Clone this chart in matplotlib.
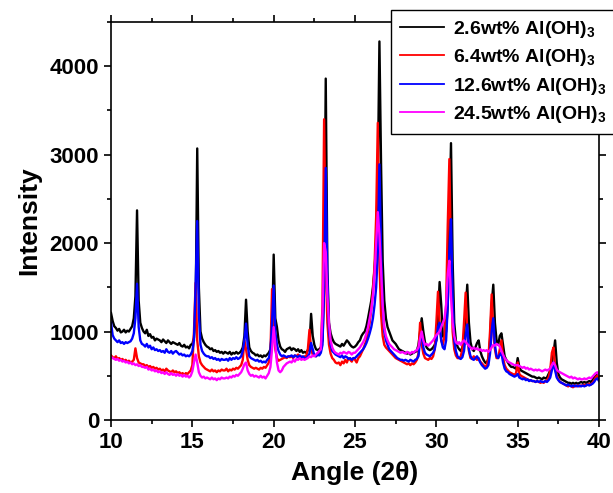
import numpy as np
import matplotlib
matplotlib.use("Agg")
import matplotlib.pyplot as plt
from matplotlib.ticker import MultipleLocator

plt.rcParams["font.family"] = ["Liberation Sans", "DejaVu Sans"]
plt.rcParams["font.weight"] = "bold"
plt.rcParams["mathtext.fontset"] = "custom"
plt.rcParams["mathtext.rm"] = "Liberation Sans:bold"
plt.rcParams["mathtext.bf"] = "Liberation Sans:bold"
plt.rcParams["mathtext.default"] = "bf"

# 2-theta scan, 10-40 deg in 0.1 deg steps
angle = np.linspace(10, 40, 301)

labels = [r"2.6wt% Al(OH)$_3$", r"6.4wt% Al(OH)$_3$",
          r"12.6wt% Al(OH)$_3$", r"24.5wt% Al(OH)$_3$"]
colors = ["#000000", "#ff0000", "#0000ff", "#ff00ff"]

al_2_6 = [
    1210, 1120, 1060, 1040, 1010, 1030, 990, 1000, 1020, 990,
    1010, 1000, 1030, 1060, 1150, 1400, 2370, 1350, 1100, 1040,
    1000, 980, 1020, 950, 970, 930, 940, 900, 920, 910,
    900, 880, 910, 890, 870, 900, 880, 860, 880, 870,
    860, 850, 870, 840, 830, 850, 820, 830, 810, 850,
    860, 930, 1200, 3070, 1500, 1000, 920, 880, 850, 830,
    820, 800, 810, 780, 790, 770, 780, 760, 770, 750,
    770, 760, 750, 770, 740, 760, 750, 770, 750, 760,
    780, 820, 950, 1360, 1000, 820, 780, 760, 750, 730,
    740, 720, 730, 710, 730, 720, 740, 760, 800, 1000,
    1870, 1150, 1050, 900, 830, 800, 790, 770, 800, 810,
    820, 790, 810, 800, 780, 800, 770, 790, 760, 770,
    760, 790, 850, 1200, 950, 850, 800, 790, 800, 820,
    900, 1500, 3860, 1700, 1100, 980, 920, 880, 860, 850,
    840, 830, 860, 840, 870, 900, 880, 850, 830, 820,
    830, 850, 880, 900, 950, 980, 1000, 1060, 1150, 1250,
    1350, 1500, 1700, 2000, 2700, 4280, 2900, 1800, 1350, 1150,
    1050, 1000, 950, 900, 880, 860, 830, 800, 790, 780,
    770, 760, 750, 760, 740, 750, 760, 770, 780, 850,
    1000, 1150, 1000, 880, 820, 800, 790, 800, 820, 850,
    900, 1150, 1560, 1300, 950, 920, 1000, 1300, 2200, 3130,
    1800, 1100, 900, 830, 800, 780, 820, 950, 1250, 1530,
    1100, 880, 800, 780, 820, 870, 900, 780, 720, 680,
    650, 640, 700, 900, 1300, 1530, 1100, 900, 850, 950,
    980, 850, 720, 680, 650, 620, 600, 600, 590, 580,
    700, 600, 560, 550, 540, 530, 520, 510, 500, 490,
    490, 480, 470, 480, 470, 460, 480, 470, 480, 520,
    560, 650, 750, 900, 650, 520, 480, 460, 450, 440,
    430, 420, 420, 410, 420, 410, 420, 410, 420, 430,
    420, 430, 420, 430, 440, 430, 450, 480, 500, 510,
    490,
]

al_6_4 = [
    730, 710, 700, 720, 690, 700, 680, 690, 670, 680,
    660, 670, 650, 660, 680, 810, 700, 650, 640, 630,
    630, 610, 620, 600, 610, 590, 600, 580, 590, 570,
    580, 560, 570, 550, 580, 560, 550, 540, 560, 540,
    550, 530, 540, 520, 530, 510, 530, 520, 540, 560,
    620, 1000, 1550, 900, 720, 650, 620, 600, 580, 570,
    560, 550, 570, 550, 560, 540, 560, 550, 570, 560,
    560, 580, 550, 570, 560, 580, 570, 590, 580, 600,
    620, 680, 900, 800, 680, 620, 600, 590, 580, 590,
    580, 570, 590, 580, 600, 590, 620, 650, 750, 1480,
    1000, 800, 700, 670, 680, 690, 700, 710, 700, 720,
    710, 720, 700, 730, 720, 740, 710, 720, 700, 720,
    720, 800, 1020, 800, 740, 730, 720, 740, 750, 800,
    1300, 3400, 1800, 1100, 850, 750, 700, 680, 650, 640,
    650, 620, 660, 640, 680, 650, 700, 680, 660, 700,
    680, 650, 700, 720, 760, 800, 850, 900, 1000, 1100,
    1250, 1450, 1750, 2300, 3360, 1800, 1200, 950, 850, 820,
    800, 780, 760, 740, 720, 700, 690, 680, 670, 660,
    650, 640, 630, 640, 620, 640, 630, 650, 680, 750,
    1100, 850, 750, 700, 690, 680, 700, 690, 720, 800,
    1100, 1450, 1100, 900, 850, 950, 1300, 2200, 2950, 1800,
    1000, 800, 730, 700, 700, 720, 800, 1100, 1440, 1000,
    780, 700, 690, 720, 700, 680, 700, 660, 640, 620,
    600, 620, 700, 1000, 1420, 1000, 800, 700, 700, 800,
    900, 700, 620, 580, 560, 540, 530, 520, 510, 530,
    650, 520, 500, 490, 480, 470, 460, 450, 450, 440,
    440, 430, 440, 430, 420, 430, 420, 440, 450, 480,
    560, 760, 820, 600, 500, 460, 430, 420, 410, 400,
    390, 380, 390, 380, 370, 390, 380, 390, 380, 390,
    390, 400, 390, 400, 410, 400, 420, 450, 480, 500,
    460,
]

al_12_6 = [
    1100, 960, 920, 900, 880, 900, 870, 880, 860, 880,
    870, 880, 890, 920, 980, 1150, 1540, 1050, 900, 860,
    850, 830, 860, 820, 840, 800, 820, 790, 800, 780,
    790, 770, 780, 760, 800, 770, 760, 780, 750, 770,
    780, 760, 740, 750, 730, 740, 720, 730, 720, 740,
    780, 900, 1500, 2250, 1200, 850, 780, 750, 730, 720,
    720, 700, 710, 690, 700, 680, 690, 670, 690, 680,
    680, 690, 670, 700, 680, 700, 690, 710, 690, 700,
    720, 780, 900, 1090, 850, 720, 700, 690, 680, 670,
    680, 660, 670, 650, 660, 650, 680, 700, 780, 1100,
    1520, 1000, 850, 780, 740, 720, 730, 720, 710, 720,
    720, 730, 710, 730, 720, 710, 730, 700, 720, 700,
    700, 720, 750, 870, 800, 730, 720, 740, 730, 760,
    850, 1500, 2850, 1600, 1000, 850, 780, 760, 740, 730,
    720, 710, 730, 700, 720, 710, 690, 700, 680, 700,
    700, 720, 740, 760, 780, 800, 830, 870, 920, 980,
    1050, 1150, 1300, 1500, 1900, 2890, 1900, 1300, 1000, 900,
    850, 800, 780, 760, 740, 720, 700, 690, 680, 680,
    670, 680, 670, 660, 680, 670, 660, 680, 690, 720,
    900, 980, 820, 760, 740, 730, 720, 740, 760, 800,
    900, 1050, 1100, 900, 820, 800, 900, 1300, 1900, 2270,
    1400, 900, 780, 720, 700, 690, 710, 780, 950, 1080,
    800, 720, 690, 680, 700, 720, 690, 650, 620, 600,
    580, 590, 620, 750, 1000, 1150, 850, 720, 700, 740,
    760, 650, 580, 550, 540, 520, 510, 500, 490, 500,
    520, 480, 470, 460, 470, 450, 460, 440, 450, 440,
    440, 430, 440, 430, 440, 430, 430, 440, 430, 450,
    480, 560, 650, 560, 480, 450, 430, 420, 410, 400,
    390, 400, 390, 380, 390, 380, 390, 380, 390, 380,
    390, 380, 390, 400, 390, 400, 410, 430, 460, 470,
    440,
]

al_24_5 = [
    710, 700, 690, 680, 690, 670, 680, 660, 670, 650,
    660, 640, 650, 630, 640, 620, 630, 610, 620, 600,
    600, 590, 600, 570, 580, 560, 570, 550, 560, 540,
    550, 530, 540, 520, 540, 520, 510, 530, 510, 520,
    500, 520, 500, 510, 490, 510, 490, 500, 480, 500,
    550, 650, 740, 650, 540, 500, 480, 490, 470, 480,
    470, 460, 480, 460, 470, 450, 470, 460, 480, 470,
    470, 480, 470, 490, 480, 500, 490, 510, 500, 520,
    540, 580, 630, 650, 560, 520, 500, 510, 490, 500,
    490, 480, 500, 480, 490, 470, 500, 530, 600, 800,
    1050, 850, 650, 560, 540, 560, 600, 620, 640, 650,
    660, 650, 680, 660, 690, 680, 700, 680, 690, 680,
    690, 700, 720, 710, 730, 720, 740, 760, 780, 800,
    1200, 2000, 1900, 1400, 1100, 900, 820, 780, 760, 750,
    740, 760, 750, 770, 760, 750, 770, 760, 740, 760,
    760, 780, 800, 820, 850, 880, 920, 980, 1050, 1150,
    1250, 1400, 1650, 2000, 2350, 2100, 1700, 1300, 1050, 950,
    900, 860, 840, 820, 800, 790, 780, 770, 760, 770,
    760, 750, 770, 760, 750, 770, 760, 780, 790, 820,
    920, 1000, 900, 850, 860, 840, 860, 880, 900, 930,
    960, 980, 1000, 1050, 1100, 1150, 1300, 1650, 1800, 1400,
    1100, 950, 880, 860, 880, 850, 880, 900, 880, 860,
    840, 820, 800, 820, 800, 810, 790, 800, 780, 790,
    780, 790, 770, 790, 820, 850, 840, 860, 850, 830,
    780, 740, 700, 680, 660, 650, 640, 630, 620, 620,
    620, 610, 600, 590, 600, 580, 590, 570, 580, 570,
    560, 570, 560, 570, 560, 550, 560, 570, 560, 570,
    580, 620, 650, 620, 570, 550, 540, 530, 520, 510,
    500, 490, 480, 490, 470, 480, 470, 460, 470, 460,
    460, 470, 460, 470, 480, 470, 490, 510, 530, 540,
    510,
]

series = [al_2_6, al_6_4, al_12_6, al_24_5]

fig = plt.figure(figsize=(6.13, 4.93), dpi=100)
ax = fig.add_axes([0.1811, 0.1481, 0.7961, 0.8073])

for y, c, lab in zip(series, colors, labels):
    ax.plot(angle, y, color=c, lw=1.7, label=lab)

ax.set_xlim(10, 40)
ax.set_ylim(0, 4500)
ax.xaxis.set_major_locator(MultipleLocator(5))
ax.xaxis.set_minor_locator(MultipleLocator(2.5))
ax.yaxis.set_major_locator(MultipleLocator(1000))
ax.yaxis.set_minor_locator(MultipleLocator(500))
ax.tick_params(which="both", direction="out", top=True, right=True,
               width=1.2, labelsize=16)
ax.tick_params(which="major", length=5)
ax.tick_params(which="minor", length=3)
for s in ax.spines.values():
    s.set_linewidth(1.2)
for t in ax.get_xticklabels() + ax.get_yticklabels():
    t.set_fontweight("bold")

ax.set_xlabel(r"Angle (2θ)", fontsize=19, fontweight="bold", labelpad=6)
ax.set_ylabel("Intensity", fontsize=19, fontweight="bold", labelpad=6)

leg = fig.legend(loc="upper left", bbox_to_anchor=(391 / 613, 1 - 10 / 493),
                 frameon=True, fancybox=False, fontsize=14,
                 handlelength=2.3, handletextpad=0.45, labelspacing=0.38,
                 borderpad=0.45, borderaxespad=0)
leg.get_frame().set_edgecolor("black")
leg.get_frame().set_linewidth(1.0)
leg.get_frame().set_alpha(1)
for h in leg.get_lines():
    h.set_linewidth(1.3)

fig.savefig("out.png", dpi=100)
